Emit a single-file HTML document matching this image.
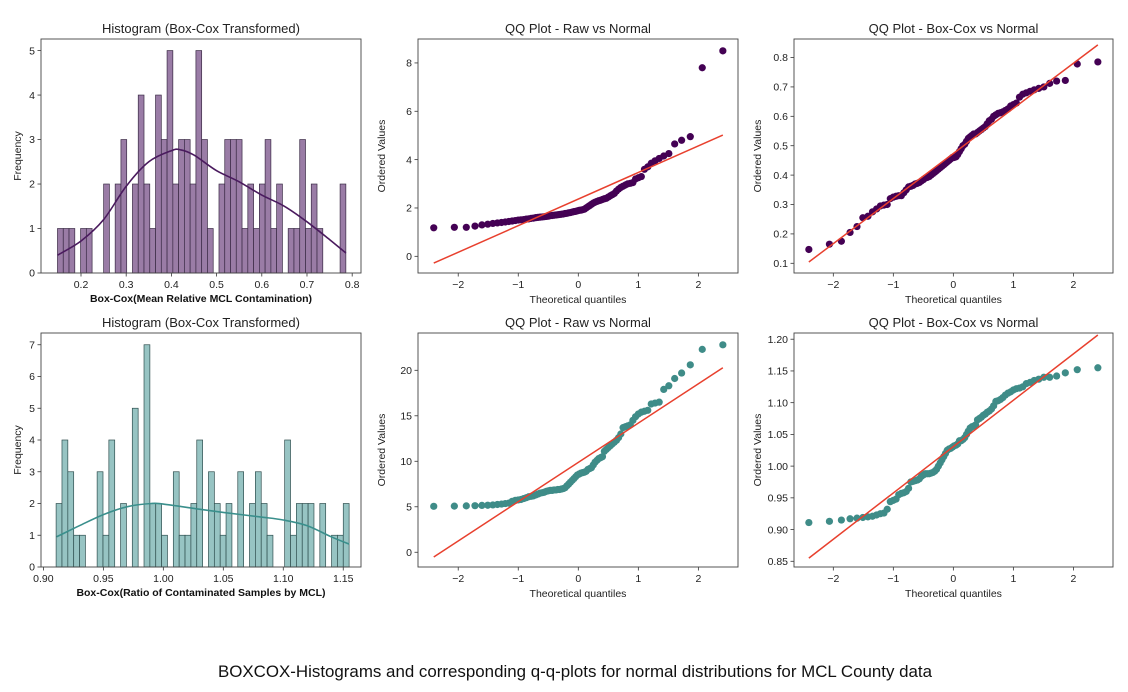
<!DOCTYPE html>
<html><head><meta charset="utf-8">
<style>
html,body{margin:0;padding:0;background:#fff;}
svg{display:block;font-family:"Liberation Sans","DejaVu Sans",sans-serif;}
</style></head>
<body>
<svg id="fig" width="1128" height="692" viewBox="0 0 1128 692"></svg>
<script>
// ---------- data ----------
const hist1Counts=[1,1,1,0,1,1,0,0,2,0, 2,3,0,2,4,2,1,4,3,5, 2,3,3,2,5,3,1,0,2,3, 3,3,1,2,1,2,3,1,2,0, 1,1,3,1,2,1,0,0,0,2];
const hist1Range=[0.148,0.786];
const kde1X=[0.148,0.2,0.25,0.3,0.35,0.4,0.42,0.45,0.5,0.55,0.6,0.65,0.7,0.75,0.786];
const kde1Y=[0.4,0.72,1.2,1.95,2.5,2.75,2.77,2.65,2.3,2.05,1.75,1.5,1.15,0.75,0.45];
const hist2Counts=[2,4,3,1,1,0,0,3,1,4, 0,2,0,5,0,7,2,2,1,0, 3,1,1,2,4,0,3,2,1,2, 0,3,0,2,3,2,1,0,0,4, 1,2,2,2,0,2,0,1,1,2];
const hist2Range=[0.9106,1.1549];
const kde2X=[0.911,0.93,0.95,0.97,0.99,1.0,1.03,1.05,1.08,1.1,1.12,1.14,1.155];
const kde2Y=[0.95,1.3,1.65,1.9,2.0,1.98,1.82,1.72,1.58,1.48,1.3,0.95,0.72];
const qqRaw1=[1.18,1.2,1.2,1.25,1.3,1.33, 1.36,1.38,1.4,1.42,1.44,1.46,1.48, 1.5,1.51,1.52,1.54,1.55,1.57,1.58,
 1.6,1.61,1.62,1.63,1.64,1.65,1.66,1.68,1.69,1.7, 1.71,1.72,1.73,1.74,1.75,1.77,1.78,1.8,1.81,1.83,
 1.85,1.86,1.88,1.9,1.91,1.93,1.95, 2.0,2.05,2.1,2.15,2.2, 2.24,2.27,2.3,2.32,2.35, 2.38,2.4,2.45,2.5,2.55,
 2.6,2.7,2.78,2.85,2.9, 2.95,3.0,3.02,3.05, 3.2,3.25,3.3, 3.6,3.7,3.85, 3.95,4.05,4.15,4.25, 4.65,4.8,4.95,7.8,8.5];
const qqBox1=[0.147,0.165,0.175,0.205,0.225,0.255, 0.26,0.275,0.285,0.295,0.298,0.3,0.32, 0.325,0.328,0.33,0.33,0.34,0.35,0.36,
 0.362,0.365,0.37,0.372,0.375,0.38,0.385,0.39,0.392,0.395, 0.40,0.405,0.41,0.415,0.42,0.425,0.43,0.435,0.44,0.445,
 0.45,0.455,0.46,0.46,0.462,0.47,0.48, 0.49,0.5,0.505,0.515,0.525, 0.53,0.535,0.54,0.54,0.545, 0.55,0.555,0.56,0.565,0.575,
 0.585,0.59,0.6,0.605,0.61, 0.612,0.615,0.62,0.625, 0.635,0.64,0.645, 0.665,0.675,0.68, 0.685,0.69,0.695,0.70, 0.712,0.72,0.722,0.778,0.785];
const qqRaw2=[5.05,5.07,5.1,5.12,5.15,5.17, 5.2,5.25,5.3,5.35,5.4,5.6,5.7, 5.75,5.8,5.9,6.0,6.1,6.15,6.2,
 6.3,6.4,6.5,6.55,6.6,6.7,6.75,6.8,6.8,6.85, 6.85,6.9,6.9,6.95,7.0,7.1,7.3,7.5,7.7,7.9,
 8.1,8.3,8.5,8.6,8.7,8.75,8.8, 8.9,9.1,9.2,9.3,9.6, 9.9,10.1,10.3,10.4,10.5, 11.1,11.3,11.5,11.7,11.9,
 12.1,12.3,12.6,13.0,13.7, 13.8,13.9,14.0,14.5, 14.9,15.2,15.4, 15.5,15.6,16.3, 16.4,16.5,17.9,18.3, 19.1,19.7,20.6,22.3,22.8];
const qqBox2=[0.911,0.913,0.915,0.917,0.918,0.919, 0.92,0.921,0.923,0.925,0.926,0.932,0.944, 0.946,0.948,0.955,0.957,0.958,0.96,0.965,
 0.975,0.976,0.977,0.978,0.98,0.984,0.986,0.988,0.988,0.988, 0.989,0.99,0.992,0.995,1.0,1.005,1.01,1.015,1.02,1.025,
 1.027,1.028,1.03,1.032,1.033,1.035,1.04, 1.04,1.042,1.045,1.05,1.055, 1.06,1.062,1.063,1.065,1.073, 1.075,1.077,1.08,1.082,1.085,
 1.087,1.09,1.095,1.102,1.103, 1.105,1.108,1.112,1.115, 1.117,1.12,1.122, 1.123,1.125,1.13, 1.132,1.135,1.137,1.14, 1.14,1.142,1.147,1.152,1.155];
const ticksH1X=[0.2,0.3,0.4,0.5,0.6,0.7,0.8], ticksH1Y=[0,1,2,3,4,5];
const ticksH2X=[0.90,0.95,1.00,1.05,1.10,1.15], ticksH2Y=[0,1,2,3,4,5,6,7];
const ticksQX=[-2,-1,0,1,2];
const ticksQ1Y=[0,2,4,6,8], ticksQ2Y=[0.1,0.2,0.3,0.4,0.5,0.6,0.7,0.8];
const ticksQ3Y=[0,5,10,15,20], ticksQ4Y=[0.85,0.90,0.95,1.00,1.05,1.10,1.15,1.20];

// ---------- helpers ----------
const NS="http://www.w3.org/2000/svg";
const fig=document.getElementById('fig');
function mk(tag,attrs,parent){const e=document.createElementNS(NS,tag);for(const k in attrs)e.setAttribute(k,attrs[k]);(parent||fig).appendChild(e);return e;}
function txt(s,attrs,parent){const e=mk('text',attrs,parent);e.textContent=s;return e;}
function lin(d0,d1,r0,r1){return v=>r0+(v-d0)/(d1-d0)*(r1-r0);}
function smoothPath(pts){
 let d='M'+pts[0][0].toFixed(1)+','+pts[0][1].toFixed(1);
 for(let i=0;i<pts.length-1;i++){
  const p0=pts[i-1]||pts[i],p1=pts[i],p2=pts[i+1],p3=pts[i+2]||p2;
  const c1=[p1[0]+(p2[0]-p0[0])/6,p1[1]+(p2[1]-p0[1])/6];
  const c2=[p2[0]-(p3[0]-p1[0])/6,p2[1]-(p3[1]-p1[1])/6];
  d+='C'+c1[0].toFixed(1)+','+c1[1].toFixed(1)+' '+c2[0].toFixed(1)+','+c2[1].toFixed(1)+' '+p2[0].toFixed(1)+','+p2[1].toFixed(1);
 }
 return d;
}
function normPpf(p){
 const a=[-39.6968302866538,220.946098424521,-275.928510446969,138.357751867269,-30.6647980661472,2.50662827745924];
 const b=[-54.4760987982241,161.585836858041,-155.698979859887,66.8013118877197,-13.2806815528857];
 const c=[-0.00778489400243029,-0.322396458041136,-2.40075827716184,-2.54973253934373,4.37466414146497,2.93816398269878];
 const d=[0.00778469570904146,0.32246712907004,2.445134137143,3.75440866190742];
 let q,r;
 if(p<0.02425){q=Math.sqrt(-2*Math.log(p));return(((((c[0]*q+c[1])*q+c[2])*q+c[3])*q+c[4])*q+c[5])/((((d[0]*q+d[1])*q+d[2])*q+d[3])*q+1);}
 if(p>1-0.02425){q=Math.sqrt(-2*Math.log(1-p));return-(((((c[0]*q+c[1])*q+c[2])*q+c[3])*q+c[4])*q+c[5])/((((d[0]*q+d[1])*q+d[2])*q+d[3])*q+1);}
 q=p-0.5;r=q*q;return(((((a[0]*r+a[1])*r+a[2])*r+a[3])*r+a[4])*r+a[5])*q/(((((b[0]*r+b[1])*r+b[2])*r+b[3])*r+b[4])*r+1);
}
function theoQ(n){const out=[];const mn=Math.pow(0.5,1/n);for(let i=1;i<=n;i++){let m;if(i===n)m=mn;else if(i===1)m=1-mn;else m=(i-0.3175)/(n+0.365);out.push(normPpf(m));}return out;}

function axesFrame(g,box,xs,ys,xt,yt,xfmt,yfmt,name){
 const [L,T,R,B]=box;
 for(const t of xt){const x=xs(t);
  const tk=mk('line',{x1:x,y1:B,x2:x,y2:B+3.5,stroke:'#333','stroke-width':0.8},g);
  
  
  const l=txt(xfmt(t),{x:x,y:B+15,'text-anchor':'middle','font-size':10.5,fill:'#222'},g);
  
  }
 for(const t of yt){const y=ys(t);
  const tk=mk('line',{x1:L-3.5,y1:y,x2:L,y2:y,stroke:'#333','stroke-width':0.8},g);
  
  
  const l=txt(yfmt(t),{x:L-6,y:y+3.7,'text-anchor':'end','font-size':10.5,fill:'#222'},g);
  
  }
 const fr=mk('rect',{x:L,y:T,width:R-L,height:B-T,fill:'none',stroke:'#444','stroke-width':0.9},g);
 
 
}

function histPanel(box,xd,yd,counts,range,kx,ky,fill,edge,lineCol,xt,yt,xfmt,title,xlabel,name){
 const g=mk('g',{});
 
 
 const [L,T,R,B]=box;const xs=lin(xd[0],xd[1],L,R), ys=lin(yd[0],yd[1],B,T);
 const w=(range[1]-range[0])/counts.length;
 counts.forEach((c,i)=>{ if(c<=0)return;
  const x0=xs(range[0]+i*w), x1=xs(range[0]+(i+1)*w);
  const r=mk('rect',{x:x0,y:ys(c),width:x1-x0,height:ys(0)-ys(c),fill:fill,stroke:edge,'stroke-width':0.7},g);
  
  });
 const p=mk('path',{d:smoothPath(kx.map((v,i)=>[xs(v),ys(ky[i])])),fill:'none',stroke:lineCol,'stroke-width':1.6},g);
 
 
 axesFrame(g,box,xs,ys,xt,yt,xfmt,v=>String(v),name);
 const t=txt(title,{x:(L+R)/2,y:T-6,'text-anchor':'middle','font-size':13,fill:'#222'},g);
 
 
 const xl=txt(xlabel,{x:(L+R)/2,y:B+29,'text-anchor':'middle','font-size':10.5,'font-weight':'bold',fill:'#111'},g);
 
 
 const yl=txt('Frequency',{x:0,y:0,'text-anchor':'middle','font-size':10.5,fill:'#222',transform:`translate(21,${(T+B)/2}) rotate(-90)`},g);
 
 
}

function qqPanel(box,xd,yd,vals,dotCol,yt,yfmt,name){
 const g=mk('g',{});
 
 
 const [L,T,R,B]=box;const xs=lin(xd[0],xd[1],L,R), ys=lin(yd[0],yd[1],B,T);
 const q=theoQ(vals.length);
 const n=q.length;let mq=0,mv=0;for(let i=0;i<n;i++){mq+=q[i];mv+=vals[i];}mq/=n;mv/=n;
 let sxy=0,sxx=0;for(let i=0;i<n;i++){sxy+=(q[i]-mq)*(vals[i]-mv);sxx+=(q[i]-mq)**2;}
 const slope=sxy/sxx, icpt=mv-slope*mq;
 vals.forEach((v,i)=>{const c=mk('circle',{cx:xs(q[i]),cy:ys(v),r:3.6,fill:dotCol},g);
  
  });
 const ln=mk('line',{x1:xs(q[0]),y1:ys(icpt+slope*q[0]),x2:xs(q[n-1]),y2:ys(icpt+slope*q[n-1]),stroke:'#e8402e','stroke-width':1.5},g);
 
 
 axesFrame(g,box,xs,ys,ticksQX,yt,v=>v<0?'\u2212'+(-v):String(v),yfmt,name);
 const t=txt(name.indexOf('boxcox')>=0?'QQ Plot - Box-Cox vs Normal':'QQ Plot - Raw vs Normal',{x:(L+R)/2,y:T-6,'text-anchor':'middle','font-size':13,fill:'#222'},g);
 
 
 const xl=txt('Theoretical quantiles',{x:(L+R)/2,y:B+30,'text-anchor':'middle','font-size':10.5,fill:'#222'},g);
 
 
 const yl=txt('Ordered Values',{x:0,y:0,'text-anchor':'middle','font-size':10.5,fill:'#222',transform:`translate(${L-33},${(T+B)/2}) rotate(-90)`},g);
 
 
}

const rowTop=[39,273], rowBot=[333,567];
histPanel([41,rowTop[0],361,rowTop[1]],[0.1115,0.8195],[0,5.26],hist1Counts,hist1Range,kde1X,kde1Y,'#9a7ca6','#3a2a45','#4a1a5e',
 ticksH1X,ticksH1Y,v=>String(v),'Histogram (Box-Cox Transformed)','Box-Cox(Mean Relative MCL Contamination)','histogram-top');
histPanel([41,rowBot[0],361,rowBot[1]],[0.898,1.1648],[0,7.37],hist2Counts,hist2Range,kde2X,kde2Y,'#97c4c3','#2f4f4f','#3a8f8c',
 ticksH2X,ticksH2Y,v=>v.toFixed(2),'Histogram (Box-Cox Transformed)','Box-Cox(Ratio of Contaminated Samples by MCL)','histogram-bottom');
qqPanel([418,rowTop[0],738,rowTop[1]],[-2.67,2.66],[-0.69,8.99],qqRaw1,'#440154',ticksQ1Y,v=>String(v),'qq-raw-top');
qqPanel([794,rowTop[0],1113,rowTop[1]],[-2.655,2.66],[0.067,0.863],qqBox1,'#440154',ticksQ2Y,v=>v.toFixed(1),'qq-boxcox-top');
qqPanel([418,rowBot[0],738,rowBot[1]],[-2.67,2.66],[-1.62,24.1],qqRaw2,'#3f8c88',ticksQ3Y,v=>String(v),'qq-raw-bottom');
qqPanel([794,rowBot[0],1113,rowBot[1]],[-2.655,2.66],[0.841,1.2098],qqBox2,'#3f8c88',ticksQ4Y,v=>v.toFixed(2),'qq-boxcox-bottom');

const cap=txt('BOXCOX-Histograms and corresponding q-q-plots for normal distributions for MCL County data',
 {x:218,y:677,'font-size':16.5,fill:'#111',textLength:714,lengthAdjust:'spacingAndGlyphs'});


</script>
</body></html>
